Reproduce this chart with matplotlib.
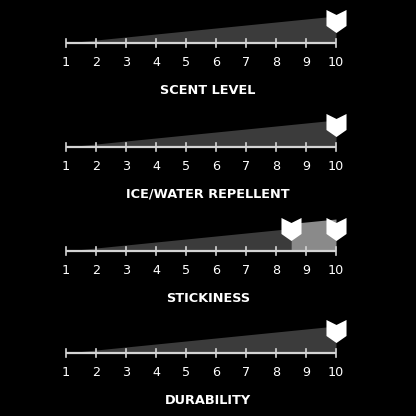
import matplotlib
matplotlib.use("Agg")
import matplotlib.pyplot as plt
import numpy as np
from matplotlib.path import Path

categories = ["SCENT LEVEL", "ICE/WATER REPELLENT", "STICKINESS", "DURABILITY"]
low_scores = [10, 10, 8.5, 10]
high_scores = [10, 10, 10, 10]
ticks = [1, 2, 3, 4, 5, 6, 7, 8, 9, 10]

W = H = 416
fig = plt.figure(figsize=(W / 100, H / 100), dpi=100, facecolor="black")

# marker shape: shield with V notch on top, point at bottom
verts = [(-10, 11.5), (0, 6.5), (10, 11.5), (10, -4.5), (0, -11.5), (-10, -4.5), (-10, 11.5)]
codes = [Path.MOVETO] + [Path.LINETO] * 5 + [Path.CLOSEPOLY]
shield = Path(verts, codes)

px_per_unit = 30.0
x0_px = 66.0
panel_h = 104
axis_offsets = [43, 43, 43, 41]
slope = 27.0 / 9.0  # wedge height (px) per unit

for i, (cat, lo, hi) in enumerate(zip(categories, low_scores, high_scores)):
    ax = fig.add_axes([0, 1 - (i + 1) * 0.25, 1, 0.25])
    ax.set_facecolor("black")
    off = axis_offsets[i]
    ax.set_xlim(1 - x0_px / px_per_unit, 1 + (W - x0_px) / px_per_unit)
    ax.set_ylim(-(panel_h - off), off)
    ax.axis("off")

    # dark wedge up to low score
    xs = np.linspace(1, lo, 50)
    ax.fill_between(xs, 0, slope * (xs - 1), color="#3b3b3b", lw=0, zorder=1)
    # lighter range between low and high
    if hi > lo:
        xr = np.array([lo, hi])
        ax.fill_between(xr, 0, slope * (xr - 1) + 5, color="#8a8a8a", lw=0, zorder=2)

    # axis line and ticks
    ax.plot([ticks[0], ticks[-1]], [0, 0], color="#d4d4d4", lw=1.6, zorder=3,
            solid_capstyle="butt")
    for t in ticks:
        ax.plot([t, t], [-4, 4], color="#d4d4d4", lw=1.2, zorder=3)
        ax.text(t, -19, str(t), color="white", ha="center", va="center",
                fontsize=9.2, family="DejaVu Sans", zorder=4)

    # markers
    pts = sorted(set([lo, hi]))
    ax.plot(pts, [22.5] * len(pts), linestyle="none", marker=shield,
            markersize=16.6, color="white", markeredgewidth=0, zorder=5)

    ax.text(0.5, -47, cat, transform=ax.get_yaxis_transform(),
            color="white", ha="center", va="center", fontsize=9.3, fontweight="bold",
            family="DejaVu Sans")

fig.savefig("out.png", dpi=100, facecolor="black")
